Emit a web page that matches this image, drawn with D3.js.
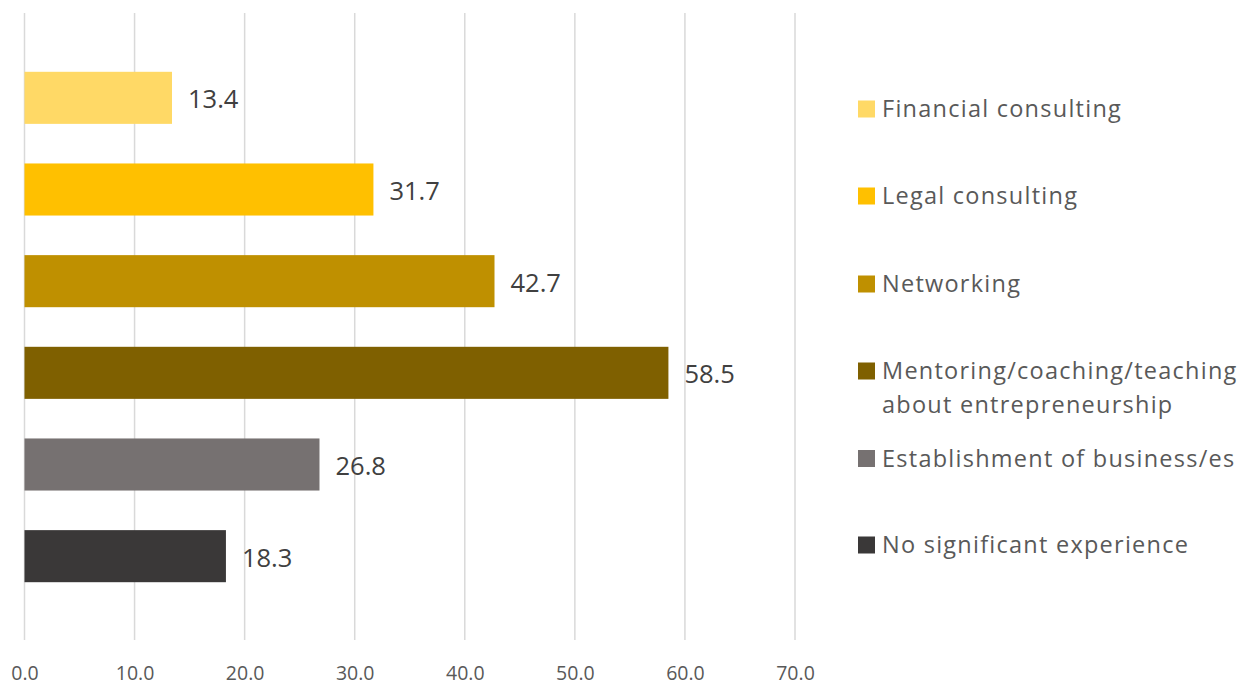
<!DOCTYPE html>
<html>
<head>
<meta charset="utf-8">
<script src="https://cdn.jsdelivr.net/npm/d3@7"></script>
<style>
  html, body { margin: 0; padding: 0; background: #ffffff; }
  svg { display: block; font-family: "Open Sans", "DejaVu Sans", sans-serif; }
</style>
</head>
<body>
<svg id="chart" width="1253" height="685"></svg>
<script>
// Share of respondents by type of experience (%)
const categories = [
  "Financial consulting",
  "Legal consulting",
  "Networking",
  "Mentoring/coaching/teaching about entrepreneurship",
  "Establishment of business/es",
  "No significant experience"
];
const values = [13.4, 31.7, 42.7, 58.5, 26.8, 18.3];
const colors = ["#FFD966", "#FFC000", "#BF9000", "#7F6000", "#767171", "#3A3838"];
const legendLines = [
  ["Financial consulting"],
  ["Legal consulting"],
  ["Networking"],
  ["Mentoring/coaching/teaching", "about entrepreneurship"],
  ["Establishment of business/es"],
  ["No significant experience"]
];
const xTicks = [0, 10, 20, 30, 40, 50, 60, 70];

const svg = d3.select("#chart");

const x = d3.scaleLinear().domain([0, 70]).range([24.5, 795]);
const y = d3.scaleBand()
  .domain(categories)
  .range([52, 602])
  .paddingInner(0.432)
  .paddingOuter(0.216);

const gridTop = 13, gridBottom = 640;

// vertical gridlines
svg.append("g")
  .selectAll("line")
  .data(xTicks)
  .join("line")
  .attr("x1", d => x(d)).attr("x2", d => x(d))
  .attr("y1", gridTop).attr("y2", gridBottom)
  .attr("stroke", "#d9d9d9")
  .attr("stroke-width", 1.5);

// x axis tick labels
const xAxis = d3.axisBottom(x)
  .tickValues(xTicks)
  .tickFormat(d3.format(".1f"))
  .tickSize(0)
  .tickPadding(0);
const axisG = svg.append("g")
  .attr("transform", `translate(0, ${gridBottom})`)
  .call(xAxis);
axisG.select(".domain").remove();
axisG.selectAll("text")
  .attr("y", 0)
  .attr("dy", 0)
  .attr("transform", "translate(0, 39.5)")
  .attr("fill", "#595959")
  .style("font-size", "19.5px")
  .style("font-family", "'Open Sans', sans-serif");

// bars
svg.append("g")
  .selectAll("rect")
  .data(categories)
  .join("rect")
  .attr("x", x(0))
  .attr("y", d => y(d))
  .attr("width", (d, i) => x(values[i]) - x(0))
  .attr("height", y.bandwidth())
  .attr("fill", (d, i) => colors[i]);

// value labels
svg.append("g")
  .selectAll("text")
  .data(categories)
  .join("text")
  .attr("x", (d, i) => x(values[i]) + 16)
  .attr("y", d => y(d) + y.bandwidth() / 2 + 10.5)
  .attr("fill", "#404040")
  .style("font-size", "25.5px")
  .text((d, i) => d3.format(".1f")(values[i]));

// legend
const legendY = [109, 196, 284, 371, 458.5, 545];
const legend = svg.append("g")
  .selectAll("g")
  .data(categories)
  .join("g")
  .attr("transform", (d, i) => `translate(858, ${legendY[i]})`);

legend.append("rect")
  .attr("x", 0).attr("y", -8.5)
  .attr("width", 17).attr("height", 17)
  .attr("fill", (d, i) => colors[i]);

legend.append("text")
  .attr("x", 24)
  .attr("y", 8)
  .attr("fill", "#595959")
  .style("font-size", "23.5px")
  .style("letter-spacing", "1.25px")
  .each(function(d, i) {
    const t = d3.select(this);
    legendLines[i].forEach((line, j) => {
      t.append("tspan")
        .attr("x", 24)
        .attr("dy", j === 0 ? 0 : 33.5)
        .text(line);
    });
  });
</script>
</body>
</html>
